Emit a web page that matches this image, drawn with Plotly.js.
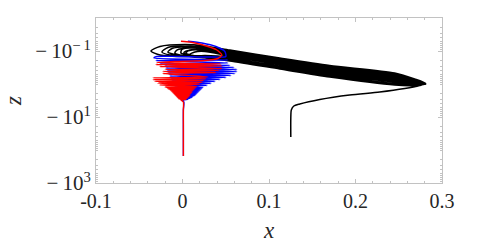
<!DOCTYPE html>
<html>
<head>
<meta charset="utf-8">
<script src="https://cdn.plot.ly/plotly-3.0.1.min.js"></script>
<style>html,body{margin:0;padding:0;background:#fff;}#chart{width:488px;height:245px;}</style>
</head>
<body>
<div id="chart"></div>
<script>
// ---- data (x, z) ----
const blackX = [0.1252,0.1252,0.1258,0.1287,0.1356,0.1587,0.1933,0.2280,0.2569,0.2742,0.2812,
  0.2684,0.2453,0.1702,0.1125,0.0547,0.0259,0.0028,-0.0261,-0.0365,-0.0261,0.0028,
  0.0259,0.0547,0.1125,0.1702,0.2453,0.2684,0.2812,
  0.2684,0.2453,0.1702,0.1125,0.0547,0.0259,0.0051,-0.0169,-0.0238,-0.0146,0.0085,
  0.0259,0.0547,0.1125,0.1702,0.2453,0.2684,0.2812,
  0.2684,0.2453,0.1702,0.1125,0.0547,0.0259,0.0085,-0.0065,-0.0088,0.0028,0.0259,
  0.0547,0.1125,0.1702,0.2453,0.2684,0.2812,
  0.2684,0.2453,0.1702,0.1125,0.0547,0.0259,0.0109,0.0016,0.0062,0.0259,
  0.0547,0.1125,0.1702,0.2453,0.2684,0.2812,
  0.2684,0.2453,0.1702,0.1125,0.0547,0.0259,0.0143,0.0085,0.0201,0.0432,
  0.0547,0.1125,0.1702,0.2453,0.2684,0.2812,
  0.2684,0.2453,0.1702,0.1125,0.0547,0.0259,0.0062,-0.0122,-0.0169,-0.0053,0.0178,
  0.0547,0.1125,0.1702,0.2453,0.2684,0.2812,
  0.2684,0.2453,0.1702,0.1125,0.0547,0.0259,0.0109,-0.0007,-0.0018,0.0109,0.0316,
  0.0547,0.1125,0.1702,0.2453,0.2684,0.2812,
  0.2684,0.2453,0.1702,0.1125,0.0547,0.0259,0.0085,0.0039,0.0155,0.0374];
const blackZ = [-40.4,-10.72,-6.136,-4.642,-4.037,-2.949,-2.154,-1.748,-1.369,-1.110,-0.9657,
  -0.7055,-0.4642,-0.2750,-0.1630,-0.0933,-0.0705,-0.0636,-0.0730,-0.100,-0.1322,-0.1468,
  -0.1369,-0.1520,-0.2565,-0.4483,-0.7565,-0.9326,-1.000,
  -0.7305,-0.5337,-0.3054,-0.1810,-0.1035,-0.0783,-0.0705,-0.0783,-0.1072,-0.1322,-0.1418,
  -0.1418,-0.1688,-0.2949,-0.5154,-0.8697,-1.000,-1.000,
  -0.7565,-0.5926,-0.3511,-0.2081,-0.1191,-0.0869,-0.0811,-0.0933,-0.1150,-0.1418,-0.1520,
  -0.1874,-0.3275,-0.5722,-1.000,-1.072,-1.000,
  -0.8111,-0.6813,-0.3899,-0.2310,-0.1322,-0.0966,-0.0933,-0.1110,-0.1418,-0.1630,
  -0.2009,-0.3511,-0.6136,-1.072,-1.110,-1.000,
  -0.8399,-0.7305,-0.4329,-0.2477,-0.1418,-0.1035,-0.1072,-0.1277,-0.1574,-0.1630,
  -0.1688,-0.2848,-0.4807,-0.8111,-1.000,-1.000,
  -0.7152,-0.4977,-0.2908,-0.1724,-0.0986,-0.0740,-0.0730,-0.0839,-0.1072,-0.1322,-0.1418,
  -0.1810,-0.3162,-0.5527,-0.9657,-1.035,-1.000,
  -0.7460,-0.5527,-0.3275,-0.1941,-0.1110,-0.0811,-0.0783,-0.0900,-0.1150,-0.1369,-0.1468,
  -0.1941,-0.3391,-0.5926,-1.035,-1.072,-1.000,
  -0.7833,-0.6354,-0.3765,-0.2154,-0.1233,-0.0933,-0.0933,-0.1150,-0.1418,-0.1520];

const blueX = [0.0010,0.0010,0.0010,0.0016,
  -0.0007,0.0062,-0.0018,0.0085,-0.0018,0.0109,-0.0030,0.0120,-0.0030,0.0143,-0.0030,0.0155,
  -0.0042,0.0166,-0.0042,0.0178,-0.0053,0.0189,-0.0053,0.0201,-0.0065,0.0213,-0.0065,0.0224,
  -0.0076,0.0236,
  -0.0088,0.0282,-0.0099,0.0328,-0.0111,0.0374,-0.0122,0.0432,-0.0134,0.0501,-0.0146,0.0559,
  -0.0157,0.0605,-0.0169,0.0628,-0.0180,0.0628,-0.0192,0.0594,-0.0203,0.0547,-0.0261,0.0524,
  -0.0307,0.0524,-0.0330,-0.0296,-0.0030,0.0316,0.0501,0.0490,0.0386,0.0224,0.0062];
const blueZ = [-151,-24.77,-6.136,-3.511,
  -3.054,-2.949,-2.848,-2.750,-2.656,-2.565,-2.477,-2.392,-2.310,-2.231,-2.154,-2.081,
  -2.009,-1.941,-1.874,-1.810,-1.748,-1.688,-1.630,-1.574,-1.520,-1.468,-1.418,-1.369,
  -1.322,-1.277,
  -1.150,-1.110,-1.000,-0.9657,-0.8697,-0.8399,-0.7565,-0.7305,-0.6579,-0.6354,-0.5722,-0.5527,
  -0.4977,-0.4807,-0.4329,-0.4181,-0.3765,-0.3636,-0.3275,-0.3162,-0.2848,-0.2750,-0.2477,-0.2310,
  -0.1941,-0.1874,-0.1630,-0.1468,-0.1468,-0.1520,-0.1468,-0.1035,-0.0730,-0.0573,-0.0508];

const redX = [0.0010,0.0010,0.0010,0.0010,
  -0.0018,0.0039,-0.0042,0.0051,-0.0053,0.0062,-0.0065,0.0074,-0.0076,0.0085,-0.0088,0.0085,
  -0.0099,0.0097,-0.0111,0.0109,-0.0122,0.0109,-0.0134,0.0120,-0.0146,0.0132,-0.0169,0.0143,
  -0.0180,0.0155,-0.0203,0.0166,
  -0.0261,0.0201,-0.0284,0.0224,-0.0319,0.0247,-0.0342,0.0270,-0.0342,0.0293,
  -0.0226,0.0386,-0.0226,0.0420,-0.0203,0.0455,-0.0261,0.0455,-0.0307,0.0444,
  -0.0296,-0.0088,0.0259,0.0409,0.0455,0.0397,0.0236,0.0085,-0.0018];
const redZ = [-151,-24.77,-6.136,-3.511,
  -3.054,-2.949,-2.848,-2.750,-2.656,-2.565,-2.477,-2.392,-2.310,-2.231,-2.154,-2.081,
  -2.009,-1.941,-1.874,-1.810,-1.748,-1.688,-1.630,-1.574,-1.520,-1.468,-1.418,-1.369,
  -1.322,-1.277,-1.233,-1.191,
  -1.072,-1.014,-0.9457,-0.8944,-0.8341,-0.7888,-0.7356,-0.6959,-0.6490,-0.6136,
  -0.4807,-0.4483,-0.4181,-0.3899,-0.3636,-0.3391,-0.2949,-0.2848,-0.2565,-0.2477,
  -0.2231,-0.2081,-0.1941,-0.1688,-0.1322,-0.0933,-0.0658,-0.0534,-0.0508];

const xTickVals = [-0.1, 0, 0.1, 0.2, 0.3];
const xTickText = ["-0.1", "0", "0.1", "0.2", "0.3"];
const zTickVals = [-0.1, -10, -1000];
const zTickText = ["\u2212\u200910<sup>\u2212\u20091</sup>", "\u2212\u200910<sup>1</sup>", "\u2212\u200910<sup>3</sup>"];

// ---- build ----
const neg = a => a.map(v => -v);   // axis shows -z on a reversed log scale
const minorY = [];
for (let e = -2; e <= 2; e++) for (let k = 1; k <= 9; k++) minorY.push(k * Math.pow(10, e));

const font = "Liberation Serif";
const traces = [
  {x: blackX, y: neg(blackZ), mode: 'lines', line: {color: '#000000', width: 1.5, shape: 'spline', smoothing: 0.7}, hoverinfo: 'skip'},
  {x: blueX, y: neg(blueZ), mode: 'lines', line: {color: '#0000ff', width: 1.4, shape: 'spline', smoothing: 0.6}, hoverinfo: 'skip'},
  {x: redX, y: neg(redZ), mode: 'lines', line: {color: '#ff0000', width: 1.4, shape: 'spline', smoothing: 0.6}, hoverinfo: 'skip'}
];
const layout = {
  width: 488, height: 245,
  margin: {l: 96, r: 46, t: 18, b: 62},
  paper_bgcolor: '#ffffff', plot_bgcolor: '#ffffff',
  font: {family: font, size: 20, color: '#262626'},
  showlegend: false,
  xaxis: {
    showline: true, linecolor: '#c2c2c2', linewidth: 1, mirror: 'allticks',
    ticks: 'inside', ticklen: 4, tickcolor: '#c2c2c2', tickwidth: 1,
    showgrid: false, zeroline: false, automargin: false,
    tickfont: {family: font, size: 20, color: '#262626'},
    range: [-0.1, 0.3], tickmode: 'array', tickvals: xTickVals, ticktext: xTickText,
    minor: {dtick: 0.02, ticks: 'inside', ticklen: 2, tickcolor: '#c2c2c2'},
    title: {text: '<i>x</i>', font: {family: font, size: 23, color: '#262626'}, standoff: 10}
  },
  yaxis: {
    showline: true, linecolor: '#c2c2c2', linewidth: 1, mirror: 'allticks',
    ticks: 'inside', ticklen: 4, tickcolor: '#c2c2c2', tickwidth: 1,
    showgrid: false, zeroline: false, automargin: false,
    type: 'log', range: [3, -2], tickmode: 'array', tickvals: neg(zTickVals), ticktext: zTickText,
    tickfont: {family: font, size: 21, color: '#262626'},
    minor: {tickmode: 'array', tickvals: minorY, ticks: 'inside', ticklen: 2, tickcolor: '#c2c2c2'},
    title: {text: '<i>z</i>', font: {family: font, size: 23, color: '#262626'}, standoff: 7}
  }
};
Plotly.newPlot('chart', traces, layout, {staticPlot: true, displayModeBar: false});
</script>
</body>
</html>
